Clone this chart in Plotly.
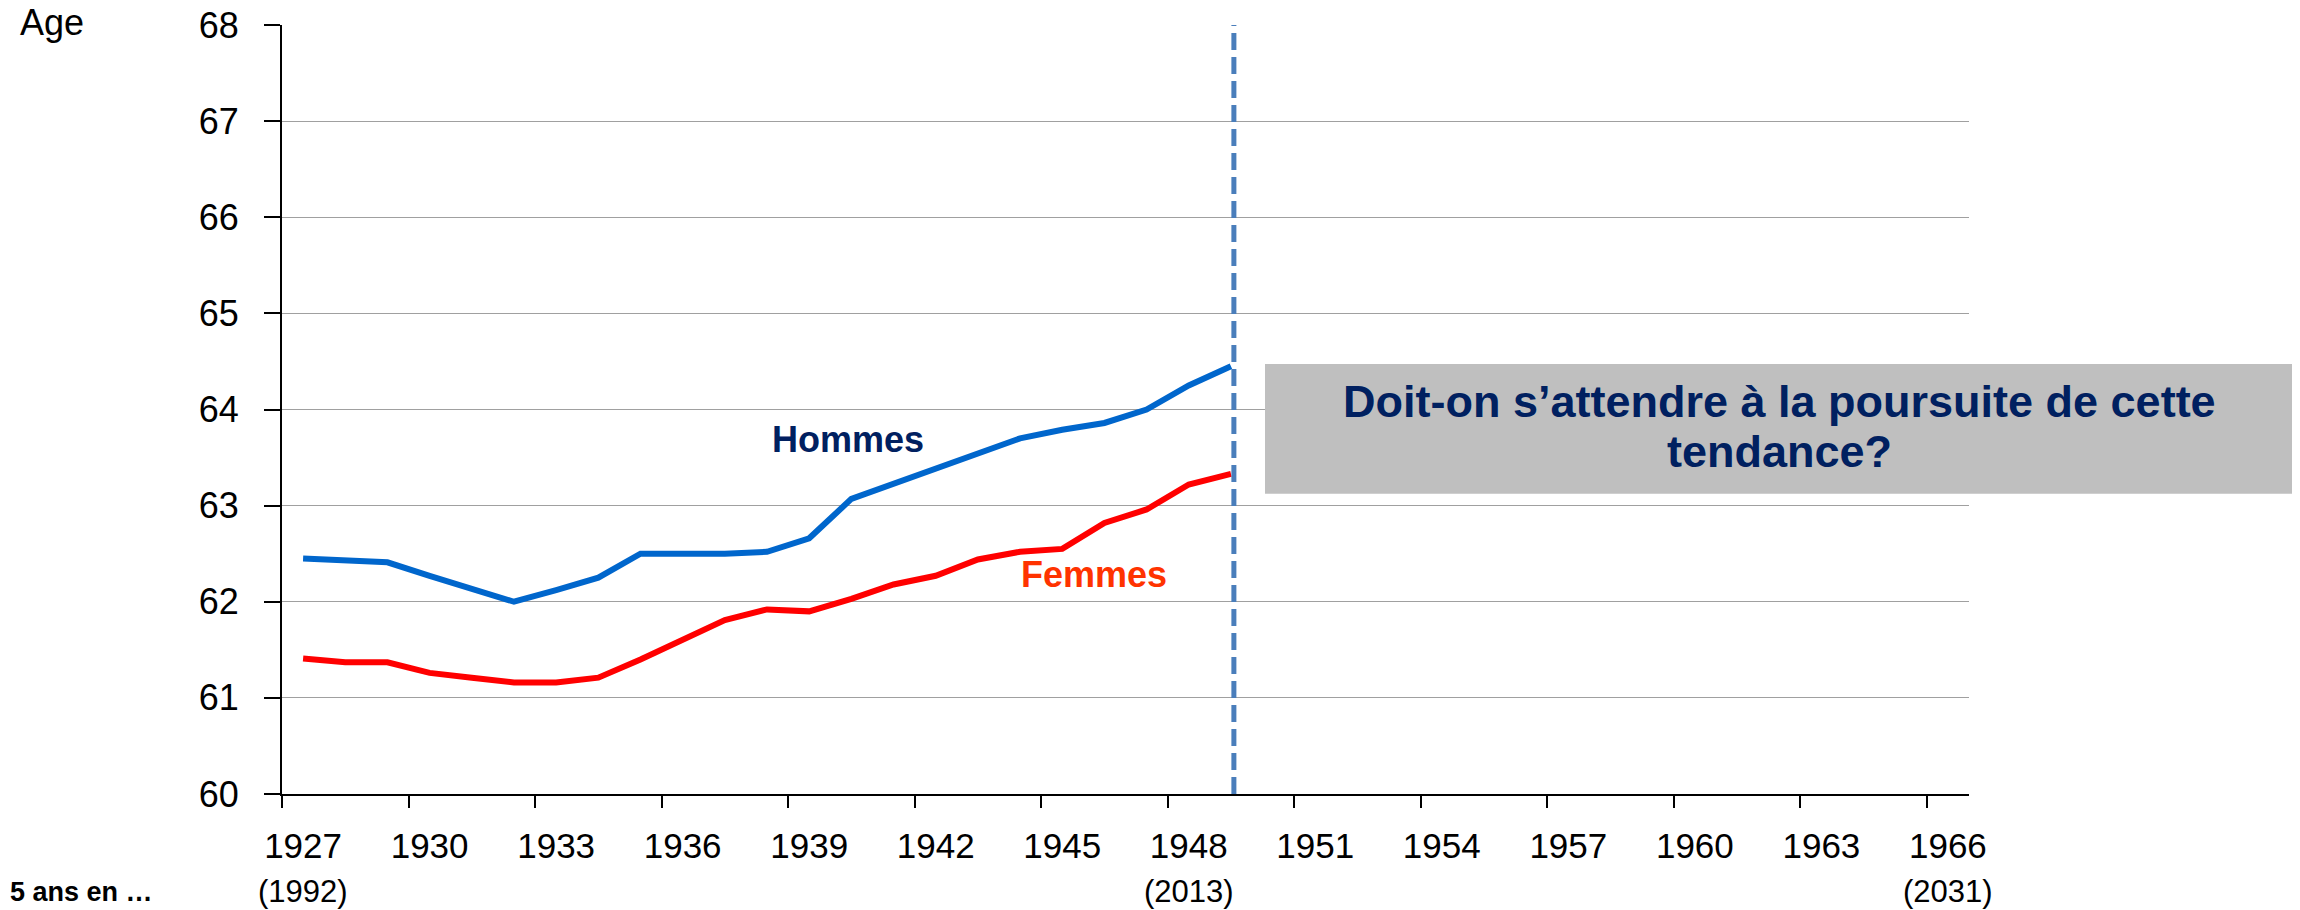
import plotly.graph_objects as go

# generations (year of birth), one category per year
generations = list(range(1927, 1950))
hommes = [62.45, 62.43, 62.41, 62.27, 62.14, 62.00, 62.12, 62.25, 62.50, 62.50,
          62.50, 62.52, 62.66, 63.07, 63.23, 63.39, 63.55, 63.70, 63.79, 63.86,
          64.00, 64.25, 64.45]
femmes = [61.41, 61.37, 61.37, 61.26, 61.21, 61.16, 61.16, 61.21, 61.40, 61.61,
          61.81, 61.92, 61.90, 62.03, 62.18, 62.27, 62.44, 62.52, 62.55, 62.82,
          62.96, 63.22, 63.33]

axis_labels = list(range(1927, 1967, 3))
year_65 = {1927: "(1992)", 1948: "(2013)", 1966: "(2031)"}
y_ticks = list(range(60, 69))
cutoff = 1949.57

FONT = "Liberation Sans, Arial, sans-serif"
NAVY = "#002060"

# category c spans [c, c+1]; points and labels sit in the middle
xs = [g + 0.5 for g in generations]

fig = go.Figure()
fig.add_trace(go.Scatter(x=xs, y=hommes, mode="lines", name="Hommes",
                         line=dict(color="#0066CC", width=6)))
fig.add_trace(go.Scatter(x=xs, y=femmes, mode="lines", name="Femmes",
                         line=dict(color="#FF0000", width=6)))

# page body adds ~8px offset, margins compensate
fig.update_layout(
    width=2300, height=910,
    margin=dict(l=274, r=339, t=17, b=124),
    plot_bgcolor="white", paper_bgcolor="white",
    showlegend=False,
    font=dict(family=FONT, color="black", size=36),
)

fig.update_xaxes(
    range=[1927, 1967], automargin=False,
    tickvals=[a + 0.5 for a in axis_labels],
    ticktext=[str(a) for a in axis_labels],
    ticks="", showgrid=False, zeroline=False,
    showline=True, linecolor="black", linewidth=2,
    tickfont=dict(size=35, family=FONT, color="black"),
    ticklabelstandoff=20, ticklabeloverflow="allow",
    minor=dict(tickvals=axis_labels, ticks="outside", ticklen=12,
               tickwidth=2, tickcolor="black", showgrid=False),
)
fig.update_yaxes(
    range=[60, 68], tickvals=y_ticks, automargin=False,
    ticks="outside", ticklen=16, tickwidth=2, tickcolor="black",
    showgrid=True, gridcolor="#A0A0A0", gridwidth=1.3,
    zeroline=False, showline=True, linecolor="black", linewidth=2,
    tickfont=dict(size=36, family=FONT, color="black"),
    ticklabelstandoff=18, ticklabeloverflow="allow",
)

# vertical dashed line
fig.add_shape(type="line", xref="x", yref="paper", x0=cutoff, x1=cutoff, y0=0, y1=1,
              line=dict(color="#4A7EBB", width=5, dash="17px,7px"))

# grey question box
fig.add_shape(type="rect", xref="paper", yref="paper",
              x0=0.5827, x1=1.1921, y0=0.3904, y1=0.5593,
              fillcolor="#BFBFBF", line=dict(width=0), layer="above")

bold = dict(family=FONT, size=45, color=NAVY, weight="bold")
fig.add_annotation(text="Doit-on s’attendre à la poursuite de cette", xref="paper", yref="paper",
                   x=0.8874, y=0.511, xanchor="center", yanchor="middle",
                   showarrow=False, font=bold)
fig.add_annotation(text="tendance?", xref="paper", yref="paper",
                   x=0.8874, y=0.445, xanchor="center", yanchor="middle",
                   showarrow=False, font=bold)

fig.add_annotation(text="Hommes", x=1940.42, y=63.69, showarrow=False,
                   xanchor="center", yanchor="middle",
                   font=dict(family=FONT, size=36, color=NAVY, weight="bold"))
fig.add_annotation(text="Femmes", x=1946.25, y=62.28, showarrow=False,
                   xanchor="center", yanchor="middle",
                   font=dict(family=FONT, size=36, color="#FF3300", weight="bold"))

fig.add_annotation(text="Age", xref="paper", yref="paper", x=-0.1565, y=1.003,
                   xanchor="left", yanchor="middle", showarrow=False,
                   font=dict(family=FONT, size=36, color="black"))

for g, txt in year_65.items():
    fig.add_annotation(text=txt, x=g + 0.5, xref="x", yref="paper", y=-0.127,
                       xanchor="center", yanchor="middle", showarrow=False,
                       font=dict(family=FONT, size=31, color="black"))

fig.add_annotation(text="5 ans en …", xref="paper", yref="paper", x=-0.1624, y=-0.1277,
                   xanchor="left", yanchor="middle", showarrow=False,
                   font=dict(family=FONT, size=27, color="black", weight="bold"))

fig.write_html("out.html")
